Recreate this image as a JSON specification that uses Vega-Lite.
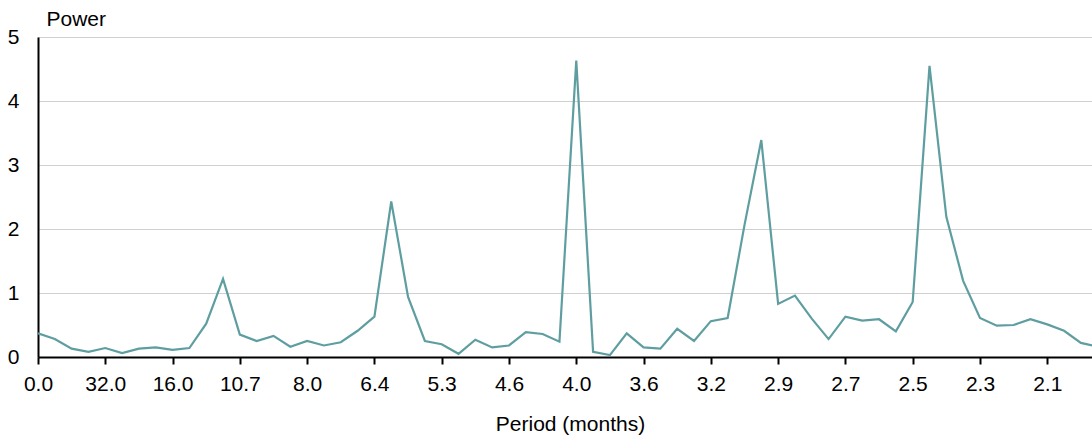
{
  "$schema": "https://vega.github.io/schema/vega-lite/v6.json",
  "autosize": "none",
  "width": 1054,
  "height": 320,
  "padding": {"left": 38, "top": 37, "right": 0, "bottom": 79},
  "background": "white",
  "config": {
    "view": {"stroke": null},
    "font": "Liberation Sans",
    "axis": {"labelFont": "Liberation Sans", "titleFont": "Liberation Sans", "labelColor": "black", "titleColor": "black", "titleFontWeight": "normal"}
  },
  "data": {
    "values": [
      {"i": 0, "power": 0.37}, {"i": 1, "power": 0.28}, {"i": 2, "power": 0.13}, {"i": 3, "power": 0.08},
      {"i": 4, "power": 0.14}, {"i": 5, "power": 0.06}, {"i": 6, "power": 0.13}, {"i": 7, "power": 0.15},
      {"i": 8, "power": 0.11}, {"i": 9, "power": 0.14}, {"i": 10, "power": 0.52}, {"i": 11, "power": 1.22},
      {"i": 12, "power": 0.35}, {"i": 13, "power": 0.25}, {"i": 14, "power": 0.33}, {"i": 15, "power": 0.16},
      {"i": 16, "power": 0.25}, {"i": 17, "power": 0.18}, {"i": 18, "power": 0.23}, {"i": 19, "power": 0.41},
      {"i": 20, "power": 0.63}, {"i": 21, "power": 2.43}, {"i": 22, "power": 0.94}, {"i": 23, "power": 0.25},
      {"i": 24, "power": 0.2}, {"i": 25, "power": 0.05}, {"i": 26, "power": 0.27}, {"i": 27, "power": 0.15},
      {"i": 28, "power": 0.18}, {"i": 29, "power": 0.39}, {"i": 30, "power": 0.36}, {"i": 31, "power": 0.24},
      {"i": 32, "power": 4.63}, {"i": 33, "power": 0.08}, {"i": 34, "power": 0.03}, {"i": 35, "power": 0.37},
      {"i": 36, "power": 0.15}, {"i": 37, "power": 0.13}, {"i": 38, "power": 0.44}, {"i": 39, "power": 0.25},
      {"i": 40, "power": 0.56}, {"i": 41, "power": 0.61}, {"i": 42, "power": 2.06}, {"i": 43, "power": 3.39},
      {"i": 44, "power": 0.83}, {"i": 45, "power": 0.96}, {"i": 46, "power": 0.6}, {"i": 47, "power": 0.28},
      {"i": 48, "power": 0.63}, {"i": 49, "power": 0.57}, {"i": 50, "power": 0.59}, {"i": 51, "power": 0.4},
      {"i": 52, "power": 0.86}, {"i": 53, "power": 4.55}, {"i": 54, "power": 2.19}, {"i": 55, "power": 1.19},
      {"i": 56, "power": 0.61}, {"i": 57, "power": 0.49}, {"i": 58, "power": 0.5}, {"i": 59, "power": 0.59},
      {"i": 60, "power": 0.51}, {"i": 61, "power": 0.41}, {"i": 62, "power": 0.22}, {"i": 63, "power": 0.16}
    ]
  },
  "mark": {"type": "line", "color": "#5f9ea0", "strokeWidth": 2.2, "clip": true},
  "encoding": {
    "x": {
      "field": "i",
      "type": "quantitative",
      "scale": {"domain": [0, 62.66], "nice": false, "zero": false},
      "axis": {
        "values": [0, 4, 8, 12, 16, 20, 24, 28, 32, 36, 40, 44, 48, 52, 56, 60],
        "labelExpr": "datum.value == 0 ? '0.0' : format(128 / datum.value, '.1f')",
        "title": "Period (months)",
        "titleFontSize": 21,
        "titleX": 532,
        "titleY": 73,
        "titleAnchor": null,
        "titleAlign": "center",
        "titleBaseline": "alphabetic",
        "labelFontSize": 21,
        "labelPadding": 9,
        "labelFlush": false,
        "labelOverlap": false,
        "grid": false,
        "domainColor": "black",
        "domainWidth": 2,
        "tickColor": "black",
        "tickWidth": 2,
        "tickSize": 7
      }
    },
    "y": {
      "field": "power",
      "type": "quantitative",
      "scale": {"domain": [0, 5], "nice": false},
      "axis": {
        "values": [0, 1, 2, 3, 4, 5],
        "format": "d",
        "title": "Power",
        "titleAngle": 0,
        "titleFontSize": 21,
        "titleAlign": "left",
        "titleBaseline": "alphabetic",
        "titleAnchor": null,
        "titleX": 8,
        "titleY": -12,
        "labelFontSize": 21,
        "labelPadding": 19,
        "labelBaseline": "middle",
        "ticks": false,
        "tickSize": 0,
        "grid": true,
        "gridColor": "#d0d0d0",
        "gridWidth": 1,
        "domainColor": "black",
        "domainWidth": 2
      }
    }
  }
}
